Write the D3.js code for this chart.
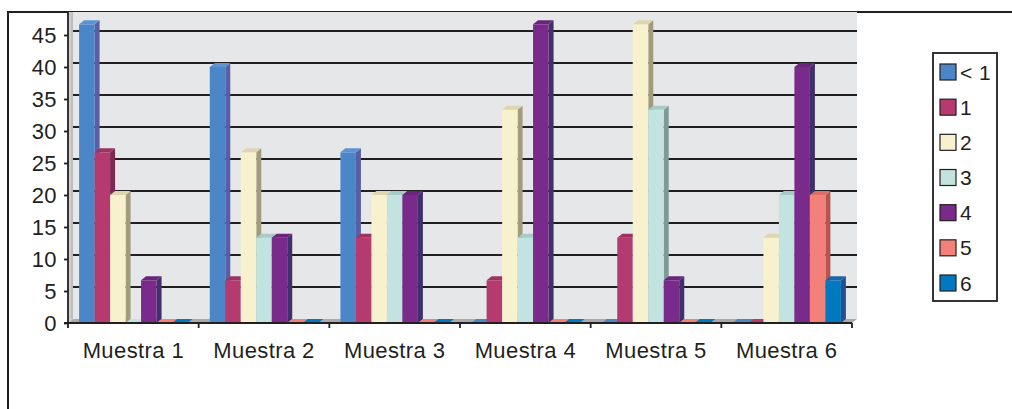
<html>
<head>
  <meta charset="utf-8">
  <title>Muestras</title>
  <style>
    body { margin: 0; background: #fff; }
    text { font-family: "Liberation Sans", Arial, sans-serif; fill: #231f20; letter-spacing: 0.4px; }
  </style>
  <script src="https://d3js.org/d3.v7.min.js"></script>
</head>
<body>
  <div id="chart"></div>
  <script>
    // Data (percentages)
    const categories = ["Muestra 1", "Muestra 2", "Muestra 3", "Muestra 4", "Muestra 5", "Muestra 6"];
    const series = ["< 1", "1", "2", "3", "4", "5", "6"];
    const values = [
      [46.67, 26.67, 20, 0, 6.67, 0, 0],
      [40, 6.67, 26.67, 13.33, 13.33, 0, 0],
      [26.67, 13.33, 20, 20, 20, 0, 0],
      [0, 6.67, 33.33, 13.33, 46.67, 0, 0],
      [0, 13.33, 46.67, 33.33, 6.67, 0, 0],
      [0, 0, 13.33, 20, 40, 20, 6.67]
    ];
    const yTicks = [0, 5, 10, 15, 20, 25, 30, 35, 40, 45];

    // Colours: front, side, top
    const frontColors = ["#4a86c8", "#b43a70", "#f8f1cd", "#c2e3df", "#7a2a8b", "#f4807a", "#0079c1"];
    const sideColors  = ["#5a5fa5", "#7b2a50", "#a09c7c", "#7e9b98", "#40306c", "#b45550", "#244f90"];
    const topColors   = ["#5d93d2", "#9e3263", "#ddd6b0", "#a9cbc7", "#6a2479", "#e06e68", "#1a66a8"];

    const W = 1012, H = 409;
    const dx = 5, dy = 4; // 3D depth
    const left = 68, right = 852, plotTop = 12;

    const svg = d3.select("#chart").append("svg")
      .attr("width", W).attr("height", H);

    const x = d3.scaleBand().domain(categories).range([left, right])
      .paddingInner(0.17).paddingOuter(0.085);
    const xs = d3.scaleBand().domain(series).range([0, x.bandwidth()]);
    const y = d3.scaleLinear().domain([0, 45]).range([323, 35]);
    const y0 = y(0);

    // Outer frame
    svg.append("path")
      .attr("d", `M8,${H + 5}V12H${W + 5}`)
      .attr("fill", "none").attr("stroke", "#231f20").attr("stroke-width", 2);

    // Back wall
    svg.append("rect")
      .attr("x", left + dx).attr("y", plotTop)
      .attr("width", right - left).attr("height", y0 - dy - plotTop)
      .attr("fill", "#e6e7e9");

    // Left wall
    svg.append("path")
      .attr("d", `M${left},${plotTop}H${left + dx}V${y0 - dy}L${left},${y0}Z`)
      .attr("fill", "#cfd0d2");
    svg.append("line")
      .attr("x1", left + dx - 1).attr("x2", left + dx - 1)
      .attr("y1", plotTop).attr("y2", y0 - dy)
      .attr("stroke", "#a7a8aa").attr("stroke-width", 1);

    // Floor
    svg.append("path")
      .attr("d", `M${left},${y0}L${left + dx},${y0 - dy}H${right + dx}L${right},${y0}Z`)
      .attr("fill", "#a9aaac");

    // Gridlines on the back wall
    svg.append("g").selectAll("line")
      .data(yTicks.filter(d => d > 0))
      .join("line")
      .attr("x1", left + dx).attr("x2", right + dx)
      .attr("y1", d => y(d) - dy).attr("y2", d => y(d) - dy)
      .attr("stroke", "#231f20").attr("stroke-width", 2);

    // Bars
    const gBars = svg.append("g");
    categories.forEach((c, ci) => {
      series.forEach((s, si) => {
        const v = values[ci][si];
        const bx = x(c) + xs(s), w = xs.bandwidth(), by = y(v);
        if (v > 0) {
          gBars.append("path")
            .attr("d", `M${bx + w},${by}L${bx + w + dx},${by - dy}V${y0 - dy}L${bx + w},${y0}Z`)
            .attr("fill", sideColors[si]);
          gBars.append("rect")
            .attr("x", bx).attr("y", by).attr("width", w).attr("height", y0 - by)
            .attr("fill", frontColors[si]);
        }
        gBars.append("path")
          .attr("d", `M${bx},${by}L${bx + dx},${by - dy}H${bx + w + dx}L${bx + w},${by}Z`)
          .attr("fill", v > 0 ? topColors[si] : frontColors[si]);
      });
    });

    // Axes
    const yAxis = svg.append("g")
      .attr("transform", `translate(${left},0)`)
      .call(d3.axisLeft(y).tickValues(yTicks).tickSize(4).tickSizeOuter(0).tickPadding(7));
    yAxis.select(".domain").attr("d", `M0,${plotTop}V${y0}`);
    yAxis.selectAll("line, path").attr("stroke", "#231f20").attr("stroke-width", 1.8);
    yAxis.selectAll("text").attr("font-size", 22).attr("dy", "0.36em")
      .style("font-family", "'Liberation Sans', Arial, sans-serif");

    const xAxis = svg.append("g")
      .attr("transform", `translate(0,${y0})`)
      .call(d3.axisBottom(x).tickSize(0).tickPadding(0));
    xAxis.select(".domain").attr("d", `M${left - 4},0H${right}`)
      .attr("stroke", "#231f20").attr("stroke-width", 1.8);
    xAxis.selectAll(".tick line").remove();
    xAxis.selectAll("text").attr("font-size", 22).attr("dy", 0).attr("y", 35)
      .style("font-family", "'Liberation Sans', Arial, sans-serif");
    // ticks at category boundaries
    const bounds = categories.map(c => x(c) - x.step() * x.paddingInner() / 2)
      .concat([right]);
    svg.append("g").selectAll("line").data(bounds).join("line")
      .attr("x1", d => d).attr("x2", d => d)
      .attr("y1", y0).attr("y2", y0 + 5)
      .attr("stroke", "#231f20").attr("stroke-width", 1.8);

    // Legend
    const lg = svg.append("g");
    lg.append("rect")
      .attr("x", 933).attr("y", 53).attr("width", 64).attr("height", 248)
      .attr("fill", "#fff").attr("stroke", "#231f20").attr("stroke-width", 1.8);
    const ly = d3.scalePoint().domain(series).range([72, 283]);
    const items = lg.selectAll("g.item").data(series).join("g")
      .attr("class", "item")
      .attr("transform", s => `translate(940,${ly(s)})`);
    items.append("rect")
      .attr("x", 0).attr("y", -8).attr("width", 16).attr("height", 16)
      .attr("fill", (s, i) => frontColors[i]).attr("stroke", "#231f20").attr("stroke-width", 1.2);
    items.append("text")
      .attr("x", 20).attr("dy", "0.36em").attr("font-size", 21)
      .text(s => s);
  </script>
</body>
</html>
